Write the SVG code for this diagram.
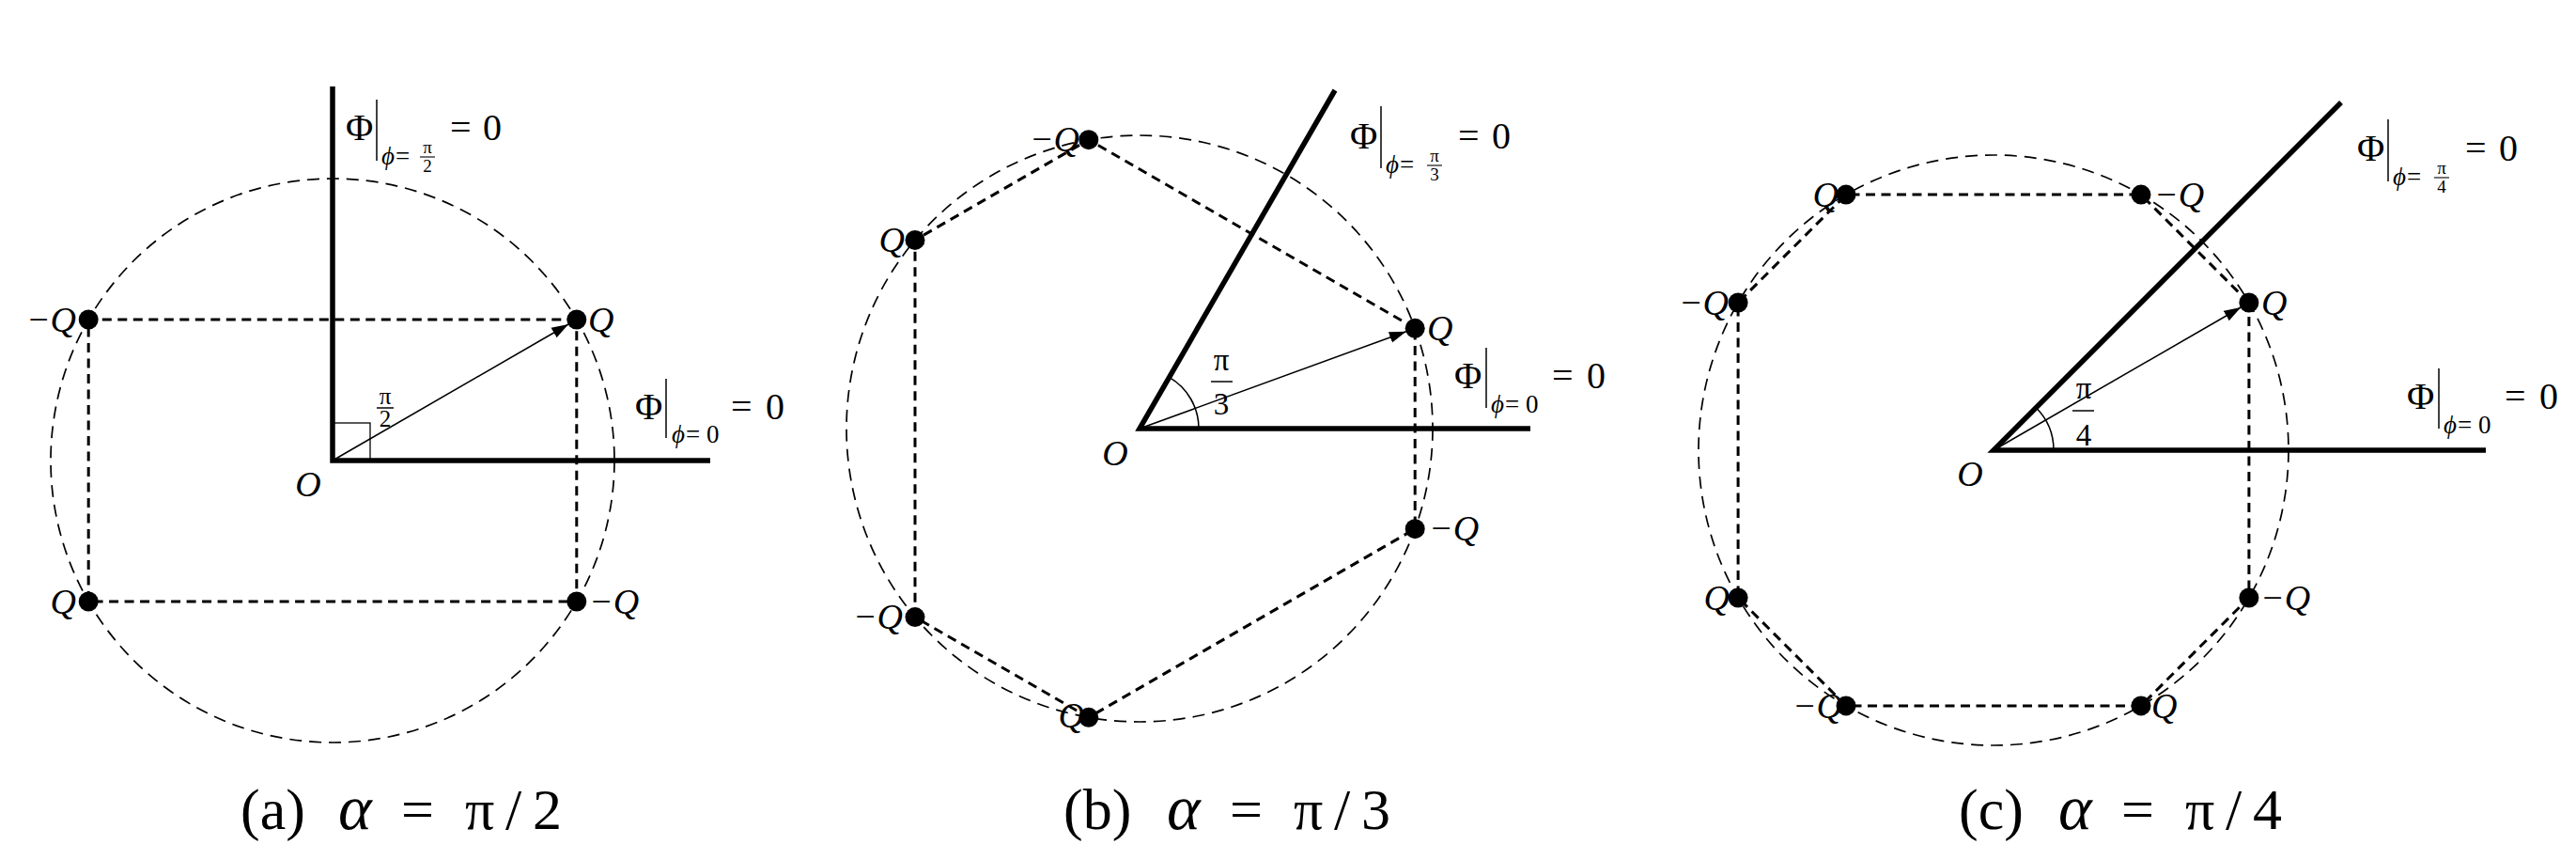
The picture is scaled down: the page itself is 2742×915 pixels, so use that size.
<svg xmlns="http://www.w3.org/2000/svg" width="2742" height="915" viewBox="0 0 2742 915">
<defs>
<style>
.thick{stroke:#000;stroke-width:5.5;fill:none;stroke-linejoin:miter;stroke-miterlimit:10}
.poly{stroke:#000;stroke-width:3;stroke-dasharray:10 6.5;fill:none}
.circ{stroke:#000;stroke-width:1.7;stroke-dasharray:13 8;fill:none}
.thin{stroke:#000;stroke-width:1.6;fill:none}
.bar{stroke:#000;stroke-width:1.5}
.dot{fill:#000}
text{font-family:"Liberation Serif","DejaVu Serif","Times New Roman",serif;fill:#000}
.i{font-style:italic}
.q{font-size:38px;font-style:italic}
.big{font-size:40px}
.sub{font-size:27px}
.tiny{font-size:19px}
.fr{font-size:25px}
.fr2{font-size:33px}
.cap{font-size:62px}
.al{font-size:68px;font-style:italic}
</style>
<marker id="ah" markerWidth="20" markerHeight="14" refX="18" refY="7" orient="auto" markerUnits="userSpaceOnUse">
<path d="M0,1 L18,7 L0,13 z" fill="#000"/>
</marker>
</defs>
<rect width="2742" height="915" fill="#fff"/>

<!-- ===== Panel (a) ===== -->
<g id="panel-a">
<g id="connectors-a">
<circle class="circ" cx="354" cy="490" r="300"/>
<polyline class="thick" points="354,92 354,490 756,490"/>
<rect class="thin" x="354" y="450" width="40" height="40" style="stroke-width:1.3"/>
<polygon class="poly" points="613.8,340 94.2,340 94.2,640 613.8,640"/>
<line class="thin" x1="354" y1="490" x2="605.1" y2="345" marker-end="url(#ah)"/>
</g>
<g id="a-n1"><circle class="dot" cx="613.8" cy="340" r="10.5"/><text class="q" x="626" y="353">Q</text></g>
<g id="a-n2"><circle class="dot" cx="94.2" cy="340" r="10.5"/><text class="q" x="81" y="353" text-anchor="end">−Q</text></g>
<g id="a-n3"><circle class="dot" cx="94.2" cy="640" r="10.5"/><text class="q" x="81" y="653" text-anchor="end">Q</text></g>
<g id="a-n4"><circle class="dot" cx="613.8" cy="640" r="10.5"/><text class="q" x="627" y="653">−Q</text></g>
<g id="a-origin"><text class="q" x="328" y="528" text-anchor="middle">O</text></g>
<g id="a-angle">
<text class="fr" x="410" y="430" text-anchor="middle">π</text>
<line class="bar" x1="401" y1="434" x2="419" y2="434"/>
<text class="fr" x="410" y="454" text-anchor="middle">2</text>
</g>
<g id="a-label-top">
<text class="big" x="368" y="149">Φ</text>
<line class="bar" x1="401" y1="106" x2="401" y2="171"/>
<text class="sub i" x="406" y="175">ϕ</text>
<text class="sub" x="421" y="175">=</text>
<text class="tiny" x="455" y="163" text-anchor="middle">π</text>
<line class="bar" x1="447" y1="167" x2="463" y2="167" style="stroke-width:1.1"/>
<text class="tiny" x="455" y="183" text-anchor="middle">2</text>
<text class="big" x="479" y="149">=</text>
<text class="big" x="514" y="149">0</text>
</g>
<g id="a-label-right">
<text class="big" x="676" y="446">Φ</text>
<line class="bar" x1="709" y1="403" x2="709" y2="466"/>
<text class="sub i" x="715" y="471">ϕ</text>
<text class="sub" x="730" y="471">=</text>
<text class="sub" x="752" y="471">0</text>
<text class="big" x="778" y="446">=</text>
<text class="big" x="815" y="446">0</text>
</g>
<g id="a-caption">
<text class="cap" y="882"><tspan x="256">(a)</tspan><tspan x="360" class="al">α</tspan><tspan x="427">=</tspan><tspan x="495">π</tspan><tspan x="538">/</tspan><tspan x="567">2</tspan></text>
</g>
</g>

<!-- ===== Panel (b) ===== -->
<g id="panel-b">
<g id="connectors-b">
<circle class="circ" cx="1213" cy="456" r="312"/>
<polyline class="thick" points="1421,96 1213,456 1629,456"/>
<path class="thin" d="M1276,456 A63,63 0 0 0 1244.5,401.4"/>
<polygon class="poly" points="1506.2,349.3 1158.8,148.7 974,255.4 974,656.6 1158.8,763.3 1506.2,562.7"/>
<line class="thin" x1="1213" y1="456" x2="1496.8" y2="352.7" marker-end="url(#ah)"/>
</g>
<g id="b-n1"><circle class="dot" cx="1506.2" cy="349.3" r="10.5"/><text class="q" x="1519" y="362">Q</text></g>
<g id="b-n2"><circle class="dot" cx="1158.8" cy="148.7" r="10.5"/><text class="q" x="1149" y="161" text-anchor="end">−Q</text></g>
<g id="b-n3"><circle class="dot" cx="974" cy="255.4" r="10.5"/><text class="q" x="963" y="268" text-anchor="end">Q</text></g>
<g id="b-n4"><circle class="dot" cx="974" cy="656.6" r="10.5"/><text class="q" x="961" y="669" text-anchor="end">−Q</text></g>
<g id="b-n5"><circle class="dot" cx="1158.8" cy="763.3" r="10.5"/><text class="q" x="1154" y="774" text-anchor="end">Q</text></g>
<g id="b-n6"><circle class="dot" cx="1506.2" cy="562.7" r="10.5"/><text class="q" x="1521" y="575">−Q</text></g>
<g id="b-origin"><text class="q" x="1187" y="495" text-anchor="middle">O</text></g>
<g id="b-angle">
<text class="fr2" x="1300" y="394" text-anchor="middle">π</text>
<line class="bar" x1="1289" y1="406" x2="1312" y2="406"/>
<text class="fr2" x="1300" y="441" text-anchor="middle">3</text>
</g>
<g id="b-label-top">
<text class="big" x="1437" y="158">Φ</text>
<line class="bar" x1="1470" y1="113" x2="1470" y2="179"/>
<text class="sub i" x="1475" y="184">ϕ</text>
<text class="sub" x="1490" y="184">=</text>
<text class="tiny" x="1527" y="172" text-anchor="middle">π</text>
<line class="bar" x1="1519" y1="176" x2="1535" y2="176" style="stroke-width:1.1"/>
<text class="tiny" x="1527" y="192" text-anchor="middle">3</text>
<text class="big" x="1552" y="158">=</text>
<text class="big" x="1588" y="158">0</text>
</g>
<g id="b-label-right">
<text class="big" x="1548" y="413">Φ</text>
<line class="bar" x1="1582" y1="370" x2="1582" y2="434"/>
<text class="sub i" x="1587" y="439">ϕ</text>
<text class="sub" x="1602" y="439">=</text>
<text class="sub" x="1624" y="439">0</text>
<text class="big" x="1652" y="413">=</text>
<text class="big" x="1689" y="413">0</text>
</g>
<g id="b-caption">
<text class="cap" y="882"><tspan x="1132">(b)</tspan><tspan x="1242" class="al">α</tspan><tspan x="1309">=</tspan><tspan x="1377">π</tspan><tspan x="1420">/</tspan><tspan x="1449">3</tspan></text>
</g>
</g>

<!-- ===== Panel (c) ===== -->
<g id="panel-c">
<g id="connectors-c">
<circle class="circ" cx="2122" cy="479" r="314"/>
<polyline class="thick" points="2492,109 2122,479 2646,479"/>
<path class="thin" d="M2186,479 A64,64 0 0 0 2167.25,433.75"/>
<polygon class="poly" points="2393.9,322 2279,207.1 1965,207.1 1850.1,322 1850.1,636 1965,750.9 2279,750.9 2393.9,636"/>
<line class="thin" x1="2122" y1="479" x2="2385.3" y2="327" marker-end="url(#ah)"/>
</g>
<g id="c-n1"><circle class="dot" cx="2393.9" cy="322" r="10.5"/><text class="q" x="2407" y="335">Q</text></g>
<g id="c-n2"><circle class="dot" cx="2279" cy="207.1" r="10.5"/><text class="q" x="2293" y="220">−Q</text></g>
<g id="c-n3"><circle class="dot" cx="1965" cy="207.1" r="10.5"/><text class="q" x="1957" y="220" text-anchor="end">Q</text></g>
<g id="c-n4"><circle class="dot" cx="1850.1" cy="322" r="10.5"/><text class="q" x="1840" y="335" text-anchor="end">−Q</text></g>
<g id="c-n5"><circle class="dot" cx="1850.1" cy="636" r="10.5"/><text class="q" x="1841" y="649" text-anchor="end">Q</text></g>
<g id="c-n6"><circle class="dot" cx="1965" cy="750.9" r="10.5"/><text class="q" x="1961" y="764" text-anchor="end">−Q</text></g>
<g id="c-n7"><circle class="dot" cx="2279" cy="750.9" r="10.5"/><text class="q" x="2290" y="764">Q</text></g>
<g id="c-n8"><circle class="dot" cx="2393.9" cy="636" r="10.5"/><text class="q" x="2406" y="649">−Q</text></g>
<g id="c-origin"><text class="q" x="2097" y="517" text-anchor="middle">O</text></g>
<g id="c-angle">
<text class="fr2" x="2218" y="424" text-anchor="middle">π</text>
<line class="bar" x1="2206" y1="437" x2="2229" y2="437"/>
<text class="fr2" x="2218" y="474" text-anchor="middle">4</text>
</g>
<g id="c-label-top">
<text class="big" x="2509" y="171">Φ</text>
<line class="bar" x1="2542" y1="127" x2="2542" y2="193"/>
<text class="sub i" x="2547" y="197">ϕ</text>
<text class="sub" x="2562" y="197">=</text>
<text class="tiny" x="2599" y="185" text-anchor="middle">π</text>
<line class="bar" x1="2591" y1="189" x2="2607" y2="189" style="stroke-width:1.1"/>
<text class="tiny" x="2599" y="205" text-anchor="middle">4</text>
<text class="big" x="2624" y="171">=</text>
<text class="big" x="2660" y="171">0</text>
</g>
<g id="c-label-right">
<text class="big" x="2562" y="435">Φ</text>
<line class="bar" x1="2596" y1="392" x2="2596" y2="456"/>
<text class="sub i" x="2601" y="461">ϕ</text>
<text class="sub" x="2616" y="461">=</text>
<text class="sub" x="2638" y="461">0</text>
<text class="big" x="2666" y="435">=</text>
<text class="big" x="2703" y="435">0</text>
</g>
<g id="c-caption">
<text class="cap" y="882"><tspan x="2085">(c)</tspan><tspan x="2191" class="al">α</tspan><tspan x="2258">=</tspan><tspan x="2326">π</tspan><tspan x="2369">/</tspan><tspan x="2398">4</tspan></text>
</g>
</g>
</svg>
